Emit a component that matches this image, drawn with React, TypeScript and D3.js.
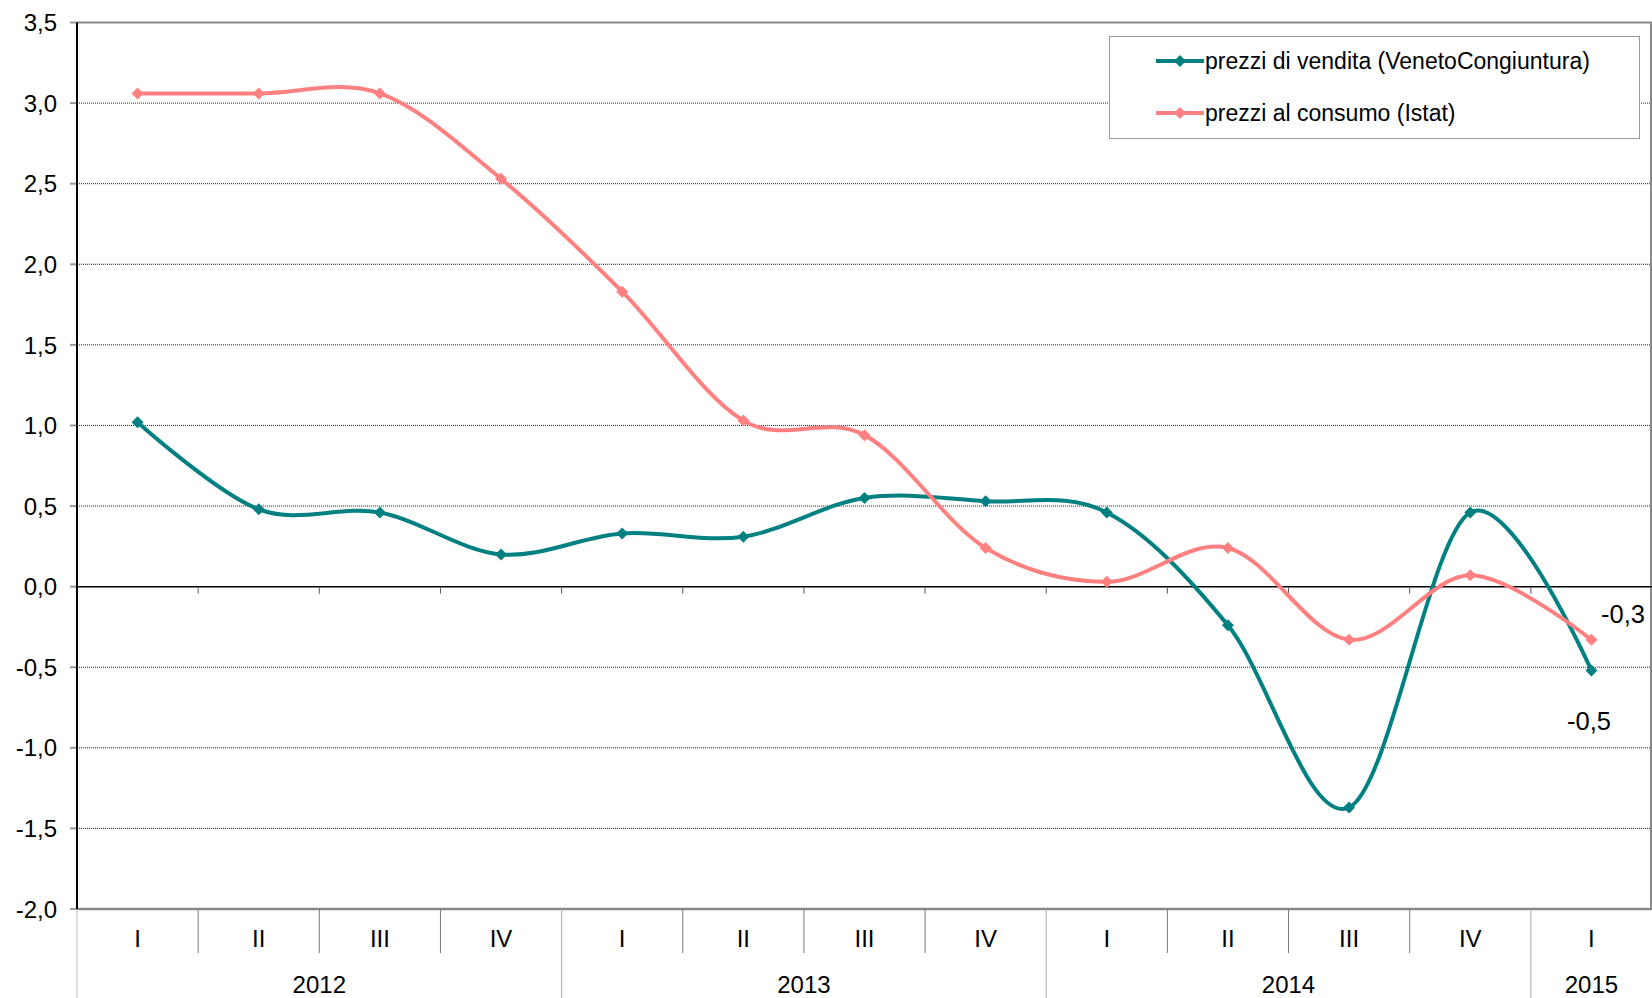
import React from "react";
import * as d3 from "d3";

const quarters = ["I", "II", "III", "IV", "I", "II", "III", "IV", "I", "II", "III", "IV", "I"];
const years = [
  { label: "2012", start: 0, count: 4 },
  { label: "2013", start: 4, count: 4 },
  { label: "2014", start: 8, count: 4 },
  { label: "2015", start: 12, count: 1 },
];
const vendita = [1.02, 0.48, 0.46, 0.2, 0.33, 0.31, 0.55, 0.53, 0.46, -0.24, -1.37, 0.46, -0.52];
const consumo = [3.06, 3.06, 3.06, 2.53, 1.83, 1.03, 0.94, 0.24, 0.03, 0.24, -0.33, 0.07, -0.33];
const yTicks = [-2, -1.5, -1, -0.5, 0, 0.5, 1, 1.5, 2, 2.5, 3, 3.5];
const seriesNames = ["prezzi di vendita (VenetoCongiuntura)", "prezzi al consumo (Istat)"];
const colors = ["#008080", "#FF8080"];
const endLabels = ["-0,5", "-0,3"];

const W = 1652;
const H = 998;
const left = 77;
const right = 1652;
const top = 22.5;
const bottom = 909;
const font = "Liberation Sans, Arial, sans-serif";

export default function App() {
  const idx = quarters.map((_, i) => i);
  const x = d3.scaleBand<number>().domain(idx).range([left, right]).padding(0);
  const bw = x.bandwidth();
  const cx = (i: number) => (x(i) as number) + bw / 2;
  const y = d3.scaleLinear().domain([-2, 3.5]).range([bottom, top]);
  const fmt = (v: number) => d3.format(".1f")(v).replace(".", ",").replace("−", "-");
  const line = d3
    .line<number>()
    .x((_, i) => cx(i))
    .y((d) => y(d))
    .curve(d3.curveCatmullRom.alpha(0));
  const series = [vendita, consumo];
  const diamond = (px: number, py: number, r: number) =>
    `M${px},${py - r}L${px + r},${py}L${px},${py + r}L${px - r},${py}Z`;

  return (
    <svg width={W} height={H} style={{ position: "absolute", left: 0, top: 0, background: "#fff" }} fontFamily={font}>
      <rect x={0} y={0} width={W} height={H} fill="#fff" />
      {yTicks.map((t) => {
        if (t === 0 || t === 3.5 || t === -2) return null;
        return (
          <line key={"g" + t} x1={left} x2={right} y1={y(t)} y2={y(t)} stroke="#222" strokeWidth={1} strokeDasharray="1 1" />
        );
      })}
      <line x1={left} x2={right} y1={y(3.5)} y2={y(3.5)} stroke="#888" strokeWidth={2} />
      <line x1={right - 1} x2={right - 1} y1={top} y2={bottom} stroke="#888" strokeWidth={2} />
      {yTicks.map((t) => (
        <g key={"t" + t}>
          <line x1={left - 7} x2={left} y1={y(t)} y2={y(t)} stroke="#999" strokeWidth={2} />
          <text x={57} y={y(t)} dy="0.36em" textAnchor="end" fontSize={24} fill="#000">
            {fmt(t)}
          </text>
        </g>
      ))}
      <line x1={left} x2={right} y1={y(0)} y2={y(0)} stroke="#000" strokeWidth={1.5} />
      {idx.slice(1).map((i) => (
        <line key={"zt" + i} x1={x(i) as number} x2={x(i) as number} y1={y(0)} y2={y(0) + 7} stroke="#555" strokeWidth={1} />
      ))}
      <line x1={left} x2={right} y1={bottom} y2={bottom} stroke="#888" strokeWidth={2.5} />
      <line x1={left} x2={left} y1={top} y2={bottom} stroke="#000" strokeWidth={2} />
      <line x1={left} x2={left} y1={bottom} y2={H} stroke="#bbb" strokeWidth={1} />
      {idx.slice(1).map((i) => {
        const isYear = years.some((yr) => yr.start === i);
        return (
          <line
            key={"qs" + i}
            x1={x(i) as number}
            x2={x(i) as number}
            y1={bottom}
            y2={isYear ? H : 953}
            stroke={isYear ? "#aaa" : "#777"}
            strokeWidth={1}
          />
        );
      })}
      {quarters.map((q, i) => (
        <text key={"q" + i} x={cx(i)} y={947} textAnchor="middle" fontSize={24} fill="#000">
          {q}
        </text>
      ))}
      {years.map((yr) => {
        const x0 = x(yr.start) as number;
        const x1 = x0 + bw * yr.count;
        return (
          <text key={yr.label} x={(x0 + x1) / 2} y={993} textAnchor="middle" fontSize={24} fill="#000">
            {yr.label}
          </text>
        );
      })}
      {series.map((s, k) => (
        <g key={"s" + k}>
          <path d={line(s) || ""} fill="none" stroke={colors[k]} strokeWidth={4} />
          {s.map((v, i) => (
            <path key={i} d={diamond(cx(i), y(v), 6)} fill={colors[k]} />
          ))}
        </g>
      ))}
      <text x={1567} y={721} dy="0.36em" fontSize={25.5} fill="#000">
        {endLabels[0]}
      </text>
      <text x={1601} y={614} dy="0.36em" fontSize={25.5} fill="#000">
        {endLabels[1]}
      </text>
      <g>
        <rect x={1109.5} y={36.5} width={530} height={102} fill="#fff" stroke="#999" strokeWidth={1} />
        {seriesNames.map((n, k) => {
          const ly = 61 + k * 52;
          return (
            <g key={"l" + k}>
              <line x1={1156} x2={1204} y1={ly} y2={ly} stroke={colors[k]} strokeWidth={4} />
              <path d={diamond(1180, ly, 6)} fill={colors[k]} />
              <text x={1205} y={ly} dy="0.36em" fontSize={23} fill="#000">
                {n}
              </text>
            </g>
          );
        })}
      </g>
    </svg>
  );
}
